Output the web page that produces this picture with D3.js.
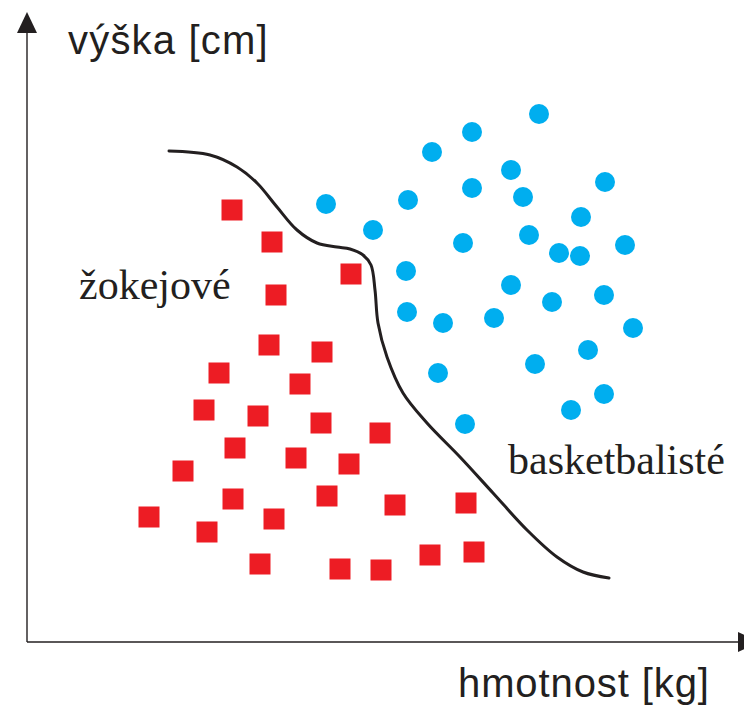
<!DOCTYPE html>
<html><head><meta charset="utf-8">
<script src="https://cdn.jsdelivr.net/npm/d3@7/dist/d3.min.js"></script>
<style>html,body{margin:0;padding:0;background:#fff;}svg{display:block;}</style>
</head><body>
<svg id="chart" width="744" height="710"></svg>
<script>
// Basketball players (weight, height) in arbitrary units
const basketWeight = [512,445,405,484,445,578,299,381,496,554,346,436,502,532,553,598,379,484,577,525,380,416,467,606,561,508,411,577,544,438];
const basketHeight = [528,510,490,472,454,460,438,442,445,425,412,399,407,389,386,397,371,357,347,340,330,319,324,314,292,278,269,248,232,218];
// Jockeys
const jockeyWeight = [205,245,324,249,242,295,192,273,177,231,294,353,208,269,322,156,206,300,368,439,122,180,247,233,313,354,403,447];
const jockeyHeight = [432,400,368,347,297,290,269,258,232,226,219,209,194,184,178,171,143,146,137,139,125,110,123,78,73,72,87,90];
// Decision boundary
const boundaryWeight = [142,183,210,230,250,270,290,310,323,336,344,348,351,360,376,400,433,466,500,530,556,582];
const boundaryHeight = [491,487,475,459,435,412,399,395,393,387,377,352,319,285,249,219,185,149,112,85,70,64];
const labels = {y:"výška [cm]", x:"hmotnost [kg]", jockey:"žokejové", basket:"basketbalisté"};

const svg = d3.select("#chart");
const x = d3.scaleLinear().domain([0,711]).range([27,738]);
const y = d3.scaleLinear().domain([0,609]).range([642,33]);

const axisColor = "#231f20";
// axes
svg.append("line").attr("x1",x(0)).attr("x2",x(711)).attr("y1",y(0)).attr("y2",y(0))
  .attr("stroke",axisColor).attr("stroke-width",1.4);
svg.append("line").attr("x1",x(0)).attr("x2",x(0)).attr("y1",y(0)).attr("y2",y(609))
  .attr("stroke",axisColor).attr("stroke-width",1.4);
// arrowheads
const ty = y(609), tx = x(711);
svg.append("path").attr("d",`M${x(0)-10},${ty} L${x(0)+10},${ty} L${x(0)},${ty-21} Z`).attr("fill",axisColor);
svg.append("path").attr("d",`M${tx},${y(0)-10} L${tx},${y(0)+10} L${tx+21},${y(0)} Z`).attr("fill",axisColor);

// boundary
const line = d3.line().x((d,i)=>x(boundaryWeight[i])).y((d,i)=>y(boundaryHeight[i])).curve(d3.curveCatmullRom.alpha(0.5));
svg.append("path").datum(boundaryWeight).attr("d",line).attr("fill","none")
  .attr("stroke",axisColor).attr("stroke-width",3).attr("stroke-linecap","round");

// jockeys
const s = 21;
svg.append("g").selectAll("rect").data(jockeyWeight).join("rect")
  .attr("x",(d)=>x(d)-s/2).attr("y",(d,i)=>y(jockeyHeight[i])-s/2)
  .attr("width",s).attr("height",s).attr("fill","#ed1c24");
// basketball
svg.append("g").selectAll("circle").data(basketWeight).join("circle")
  .attr("cx",(d)=>x(d)).attr("cy",(d,i)=>y(basketHeight[i])).attr("r",10).attr("fill","#00aeef");

// labels
svg.append("text").attr("x",68).attr("y",54).text(labels.y)
  .attr("font-family","Liberation Sans, Arial, sans-serif").attr("font-size",40).attr("letter-spacing",1.2).attr("fill","#231f20");
svg.append("text").attr("x",458).attr("y",697).text(labels.x)
  .attr("font-family","Liberation Sans, Arial, sans-serif").attr("font-size",40).attr("letter-spacing",0.9).attr("fill","#231f20");
svg.append("text").attr("x",79).attr("y",299).text(labels.jockey)
  .attr("font-family","Liberation Serif, Times New Roman, serif").attr("font-size",42).attr("fill","#231f20");
svg.append("text").attr("x",508).attr("y",474).text(labels.basket)
  .attr("font-family","Liberation Serif, Times New Roman, serif").attr("font-size",42).attr("fill","#231f20");
</script>
</body></html>
